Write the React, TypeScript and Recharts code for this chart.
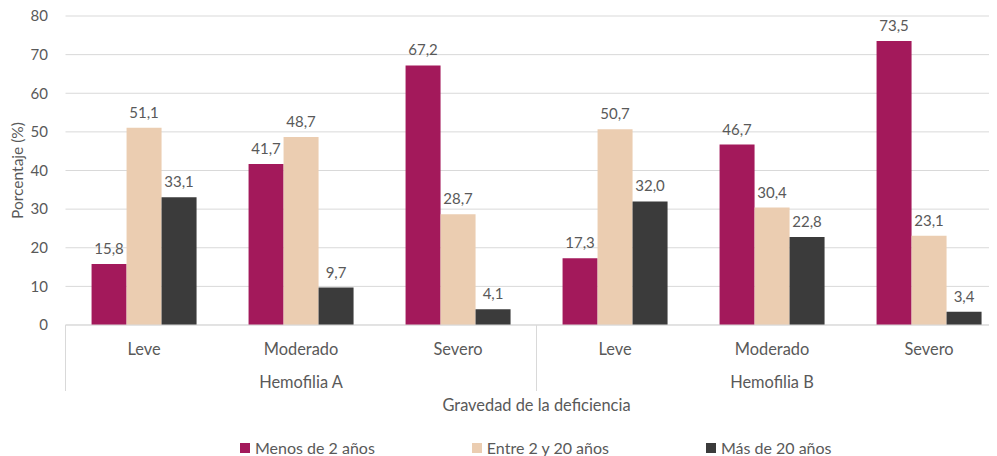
import React from 'react';
import { BarChart, Bar, XAxis, YAxis, CartesianGrid, LabelList, Legend } from 'recharts';

const categories = ['Leve', 'Moderado', 'Severo', 'Leve', 'Moderado', 'Severo'];
const groups = ['Hemofilia A', 'Hemofilia A', 'Hemofilia A', 'Hemofilia B', 'Hemofilia B', 'Hemofilia B'];
const menos2 = [15.8, 41.7, 67.2, 17.3, 46.7, 73.5];
const entre2y20 = [51.1, 48.7, 28.7, 50.7, 30.4, 23.1];
const mas20 = [33.1, 9.7, 4.1, 32.0, 22.8, 3.4];
const yTicks = [0, 10, 20, 30, 40, 50, 60, 70, 80];

const seriesNames = ['Menos de 2 años', 'Entre 2 y 20 años', 'Más de 20 años'];
const colors = ['#A3195B', '#EBCDB1', '#3B3B3B'];

const data = categories.map((c, i) => ({
  key: `${groups[i]}|${c}`,
  group: groups[i],
  cat: c,
  s0: menos2[i],
  s1: entre2y20[i],
  s2: mas20[i],
}));

const TEXT = '#595959';
const LINE = '#D9D9D9';
const FONT = 'Lato, "Open Sans", sans-serif';
const AXIS_FS = 16.4;

const fmt = (v: any) => Number(v).toFixed(1).replace('.', ',');

const AxisTick = (props: any) => {
  const { x, y, payload } = props;
  const i: number = payload?.index ?? props.index ?? 0;
  const half: number = payload?.offset || 78.5;
  const d = data[i];
  const group = d.group;
  let firstIdx = i;
  while (firstIdx > 0 && data[firstIdx - 1].group === group) firstIdx--;
  let lastIdx = i;
  while (lastIdx < data.length - 1 && data[lastIdx + 1].group === group) lastIdx++;
  const isFirst = firstIdx === i;
  const isLastOverall = i === data.length - 1;
  const groupCenter = x + ((firstIdx + lastIdx) / 2 - i) * 2 * half;
  return (
    <g>
      <text x={x} y={y + 23} textAnchor="middle" dominantBaseline="central" fill={TEXT} fontSize={AXIS_FS} fontFamily={FONT}>
        {d.cat}
      </text>
      {isFirst && (
        <>
          <line x1={x - half} x2={x - half} y1={y} y2={y + 66} stroke={LINE} strokeWidth={1} />
          <text x={groupCenter} y={y + 56} textAnchor="middle" dominantBaseline="central" fill={TEXT} fontSize={AXIS_FS} fontFamily={FONT}>
            {group}
          </text>
        </>
      )}
      {isLastOverall && <line x1={x + half} x2={x + half} y1={y} y2={y + 66} stroke={LINE} strokeWidth={1} />}
    </g>
  );
};

const XTitle = (props: any) => {
  const vb = props.viewBox || { x: 57.5, y: 317, width: 942, height: 115 };
  const cx = vb.x + vb.width / 2;
  const cy = vb.y + 79;
  return (
    <text x={cx} y={cy} textAnchor="middle" dominantBaseline="central" fill={TEXT} fontSize={AXIS_FS} fontFamily={FONT}>
      Gravedad de la deficiencia
    </text>
  );
};

const YTitle = (props: any) => {
  const vb = props.viewBox || { x: 0, y: 8, width: 57.5, height: 309 };
  const cx = vb.x + 9;
  const cy = vb.y + vb.height / 2;
  return (
    <text x={cx} y={cy} transform={`rotate(-90 ${cx} ${cy})`} textAnchor="middle" dominantBaseline="central" fill={TEXT} fontSize={15.5} fontFamily={FONT}>
      Porcentaje (%)
    </text>
  );
};

const LegendContent = () => (
  <div style={{ display: 'flex', height: 16, alignItems: 'center', marginLeft: 232, fontFamily: FONT, fontSize: 16, color: TEXT }}>
    {seriesNames.map((n, i) => (
      <div key={n} style={{ display: 'flex', alignItems: 'center', marginRight: i < seriesNames.length - 1 ? 97 : 0 }}>
        <span style={{ width: 10, height: 10, background: colors[i], display: 'inline-block', marginRight: 5 }} />
        <span style={{ lineHeight: '16px', whiteSpace: 'nowrap' }}>{n}</span>
      </div>
    ))}
  </div>
);

export default function App() {
  return (
    <div style={{ width: 989, height: 448, overflow: 'hidden', fontFamily: FONT }}>
      <style>{`html,body{overflow:hidden}`}</style>
      <BarChart
        width={1000}
        height={448}
        data={data}
        margin={{ top: 8, right: 0.5, bottom: 0, left: 0 }}
        barGap={0}
        barCategoryGap="16.6%"
      >
        <CartesianGrid vertical={false} stroke={LINE} strokeWidth={1} />
        <XAxis
          dataKey="key"
          interval={0}
          height={115}
          tickLine={false}
          tickSize={0}
          tickMargin={0}
          axisLine={{ stroke: LINE, strokeWidth: 1 }}
          tick={<AxisTick />}
          label={<XTitle />}
        />
        <YAxis
          width={57.5}
          domain={[0, 80]}
          ticks={yTicks}
          interval={0}
          axisLine={false}
          tickLine={false}
          tickSize={0}
          tickMargin={17.5}
          tick={{ fill: TEXT, fontSize: 15, fontFamily: FONT }}
          label={<YTitle />}
        />
        <Legend verticalAlign="bottom" align="left" content={<LegendContent />} wrapperStyle={{ left: 0, width: 1000 }} />
        {['s0', 's1', 's2'].map((k, i) => (
          <Bar key={k} dataKey={k} name={seriesNames[i]} fill={colors[i]} isAnimationActive={false}>
            <LabelList dataKey={k} position="top" offset={10} formatter={fmt} fill={TEXT} fontSize={15} fontFamily={FONT} />
          </Bar>
        ))}
      </BarChart>
    </div>
  );
}
